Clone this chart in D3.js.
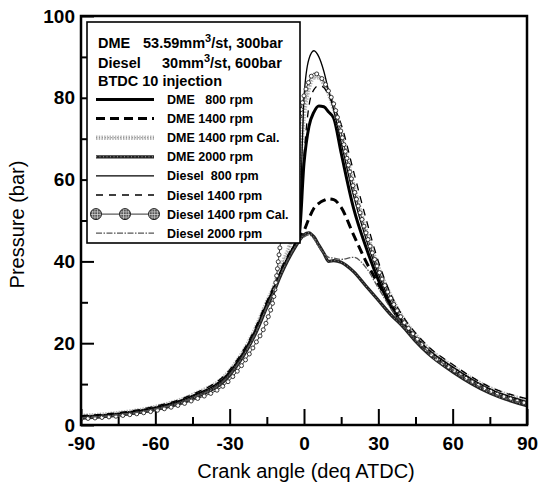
<!DOCTYPE html>
<html>
<head>
<meta charset="utf-8">
<script src="https://cdnjs.cloudflare.com/ajax/libs/d3/7.8.5/d3.min.js"></script>
<style>
body { margin: 0; background: #fff; }
text { font-family: "Liberation Sans", Arial, sans-serif; }
</style>
</head>
<body>
<div id="chart"></div>
<script>
// crank angle samples (deg ATDC) shared by every trace
let angles = [-90, -75, -60, -45, -30, -20, -15, -12, -10, -8, -5, -2, 0, 2, 4, 6, 8, 10, 12, 15, 20, 25, 30, 35, 40, 45, 50, 60, 75, 90];

// pressure (bar)
let dme800 = [2.0, 2.7, 4.2, 7.0, 12.8, 22.5, 29.5, 33.5, 36.5, 39, 42.5, 46, 64, 73, 76.5, 78, 77.8, 76.5, 75, 66.5, 53, 43.5, 35.5, 29, 24.5, 21, 18, 13.8, 8.5, 5.3];
let dme1400 = [1.9, 2.6, 4.1, 6.9, 12.6, 22.3, 29.3, 33.3, 36.3, 38.9, 42.5, 45.5, 47.5, 50.5, 53, 54.2, 54.9, 55.3, 55.1, 53.2, 46.5, 40, 34.5, 29.5, 25, 21.5, 18.5, 14, 8.7, 5.4];
let dme1400Cal = [2.2, 2.9, 4.4, 7.3, 13.2, 23, 30, 34, 37.5, 40.5, 46, 62, 76, 82.5, 85, 85, 83.5, 81, 77.5, 71, 58.5, 47.5, 38.5, 31.5, 26, 22, 18.8, 14.3, 9, 6];
let dme2000 = [1.7, 2.4, 3.8, 6.5, 12.2, 21.8, 28.8, 32.8, 35.8, 38.5, 42, 45, 46.5, 47, 46, 44, 42, 40, 40.2, 39.8, 37.5, 34, 30.5, 27, 24, 20.5, 17.5, 13, 7.8, 4.7];
let diesel800 = [2.1, 2.8, 4.3, 7.1, 13, 22.8, 29.8, 33.8, 36.8, 39.3, 42.8, 47, 80, 89.5, 91.5, 90, 86.5, 81.5, 77, 69, 56, 45.5, 37, 30, 25, 21.5, 18.5, 14.2, 8.8, 5.7];
let diesel1400 = [2.3, 3.0, 4.6, 7.5, 13.5, 23.3, 30.3, 34.3, 37.3, 39.8, 43.2, 46.5, 66, 78, 82, 83, 82.5, 80.5, 78, 73.5, 62, 50.5, 40, 32, 26.5, 22.5, 19.3, 14.8, 9.3, 6.4];
let diesel1400Cal = [1.5, 2.2, 3.5, 6.0, 11, 19.5, 25.5, 32, 42, 52, 64, 74.5, 80.5, 84, 86, 85.5, 84, 81.5, 78.5, 71.5, 58, 47, 38, 31, 25.5, 21.5, 18, 13.5, 8.3, 5.2];
let diesel2000 = [1.8, 2.5, 3.9, 6.6, 12.3, 22, 29, 33, 36, 38.7, 42.2, 45, 46, 46.5, 45.5, 43.5, 42, 41, 40.8, 40.5, 41, 38.5, 33.5, 28.5, 24.5, 21, 18, 13.4, 8.1, 5.0];

let seriesNames = ['DME   800 rpm', 'DME 1400 rpm', 'DME 1400 rpm Cal.', 'DME 2000 rpm', 'Diesel  800 rpm', 'Diesel 1400 rpm', 'Diesel 1400 rpm Cal.', 'Diesel 2000 rpm'];
let seriesValues = [dme800, dme1400, dme1400Cal, dme2000, diesel800, diesel1400, diesel1400Cal, diesel2000];

let xTicks = [-90, -60, -30, 0, 30, 60, 90];
let xTickLabels = ['-90', '-60', '-30', '0', '30', '60', '90'];
let xMinorTicks = [-75, -45, -15, 15, 45, 75];
let yTicks = [0, 20, 40, 60, 80, 100];
let yTickLabels = ['0', '20', '40', '60', '80', '100'];
let yMinorTicks = [10, 30, 50, 70, 90];

// line looks, same order as seriesNames
let styles = [
    {layers: [{stroke: '#000', w: 3}]},
    {layers: [{stroke: '#000', w: 3, dash: '9,5'}]},
    {layers: [{stroke: '#b8b8b8', w: 4.5, dash: '1.5,1.2'}, {stroke: '#8a8a8a', w: 1, dash: '1,2'}]},
    {layers: [{stroke: '#222', w: 3.2}, {stroke: '#bbb', w: 0.8, dash: '1,2.5'}]},
    {layers: [{stroke: '#000', w: 1.3}]},
    {layers: [{stroke: '#000', w: 1.3, dash: '7,6'}]},
    {layers: [{stroke: '#333', w: 1}], markers: true},
    {layers: [{stroke: '#555', w: 1.3, dash: '6,1.5,1.5,1.5'}]}
];

let svgWidth = 538;
let svgHeight = 489;

let margin = {
    top: 16,
    right: 11,
    bottom: 64,
    left: 81
};

let width = svgWidth - margin.left - margin.right;
let height = svgHeight - margin.top - margin.bottom;

let svg = d3.select('#chart')
    .append('svg')
    .attr('width', svgWidth)
    .attr('height', svgHeight);

let defs = svg.append('defs');
let hatch = defs.append('pattern')
    .attr('id', 'hatch')
    .attr('width', 2.6)
    .attr('height', 2.6)
    .attr('patternUnits', 'userSpaceOnUse');
hatch.append('rect').attr('width', 2.6).attr('height', 2.6).attr('fill', '#555');
hatch.append('path').attr('d', 'M0,1.3H2.6M1.3,0V2.6').attr('stroke', '#ddd').attr('stroke-width', 0.6);

defs.append('clipPath').attr('id', 'plotClip')
    .append('rect').attr('width', width).attr('height', height);

let chartGroup = svg.append('g')
    .attr('transform', `translate(${margin.left}, ${margin.top})`);

let xScale = d3.scaleLinear().domain([-90, 90]).range([0, width]);
let yScale = d3.scaleLinear().domain([0, 100]).range([height, 0]);

function styleAxis(g) {
    g.select('.domain').remove();
    g.selectAll('.tick line').attr('stroke', '#000').attr('stroke-width', 2);
    g.selectAll('.tick text')
        .attr('fill', '#000')
        .style('font-size', '19px')
        .style('font-weight', 'bold')
        .style('font-family', '"Liberation Sans", Arial, sans-serif');
}

let bottomAxis = d3.axisBottom(xScale)
    .tickValues(xTicks)
    .tickSize(-16)
    .tickPadding(12)
    .tickFormat((d, i) => xTickLabels[i]);
let bottomMinor = d3.axisBottom(xScale).tickValues(xMinorTicks).tickSize(-8).tickFormat('');

let leftAxis = d3.axisLeft(yScale)
    .tickValues(yTicks)
    .tickSize(-13)
    .tickPadding(6)
    .tickFormat((d, i) => yTickLabels[i]);
let leftMinor = d3.axisLeft(yScale).tickValues(yMinorTicks).tickSize(-7).tickFormat('');

chartGroup.append('g').attr('transform', `translate(0, ${height})`).call(bottomAxis).call(styleAxis);
chartGroup.append('g').attr('transform', `translate(0, ${height})`).call(bottomMinor).call(styleAxis);
chartGroup.append('g').call(leftAxis).call(styleAxis);
chartGroup.append('g').call(leftMinor).call(styleAxis);

// axis titles
chartGroup.append('text')
    .attr('x', width / 2 + 2)
    .attr('y', height + 53)
    .attr('text-anchor', 'middle')
    .style('font-size', '20px')
    .text('Crank angle (deq ATDC)');

chartGroup.append('text')
    .attr('transform', `translate(-57, ${height / 2 + 4}) rotate(-90)`)
    .attr('text-anchor', 'middle')
    .style('font-size', '20px')
    .text('Pressure (bar)');

// draw one styled trace, markers sampled along the drawn path
function drawStyled(g, d, style, big) {
    let base;
    style.layers.forEach((l, i) => {
        let p = g.append('path')
            .attr('d', d)
            .attr('fill', 'none')
            .attr('stroke', l.stroke)
            .attr('stroke-width', l.w)
            .attr('stroke-dasharray', l.dash || null);
        if (i === 0) base = p;
    });
    if (style.markers) {
        let node = base.node();
        let len = node.getTotalLength();
        let step = big ? len / 2 : 7;
        for (let s = 0; s <= len + 0.1; s += step) {
            let pt = node.getPointAtLength(Math.min(s, len));
            g.append('circle')
                .attr('cx', pt.x)
                .attr('cy', pt.y)
                .attr('r', big ? 5.5 : 2)
                .attr('fill', big ? 'url(#hatch)' : '#fff')
                .attr('stroke', '#222')
                .attr('stroke-width', big ? 1 : 0.9);
        }
    }
}

// legend box
let legend = svg.append('g');
legend.append('rect')
    .attr('x', 87)
    .attr('y', 22)
    .attr('width', 213)
    .attr('height', 221)
    .attr('fill', '#fff')
    .attr('stroke', '#000')
    .attr('stroke-width', 1.6);

let header = legend.append('g')
    .style('font-size', '14.5px')
    .style('font-weight', 'bold');

header.append('text').attr('x', 98).attr('y', 48).text('DME');
let h1 = header.append('text').attr('x', 143).attr('y', 48);
h1.append('tspan').text('53.59mm');
h1.append('tspan').attr('dy', -6).style('font-size', '11px').text('3');
h1.append('tspan').attr('dy', 6).text('/st, 300bar');

header.append('text').attr('x', 98).attr('y', 68).text('Diesel');
let h2 = header.append('text').attr('x', 162).attr('y', 68);
h2.append('tspan').text('30mm');
h2.append('tspan').attr('dy', -6).style('font-size', '11px').text('3');
h2.append('tspan').attr('dy', 6).text('/st, 600bar');

header.append('text').attr('x', 98).attr('y', 86).text('BTDC 10 injection');

let sampleLine = d3.line();
seriesNames.forEach((name, i) => {
    let cy = 99.5 + i * 19.1;
    let g = legend.append('g');
    drawStyled(g, sampleLine([[96, cy], [154, cy]]), styles[i], true);
    g.append('text')
        .attr('x', 167)
        .attr('y', cy + 4.5)
        .style('font-size', '12.5px')
        .style('font-weight', 'bold')
        .style('white-space', 'pre')
        .attr('xml:space', 'preserve')
        .text(name);
});

// traces
let line = d3.line()
    .x(d => xScale(d[0]))
    .y(d => yScale(d[1]))
    .curve(d3.curveMonotoneX);

let traces = chartGroup.append('g').attr('clip-path', 'url(#plotClip)');
seriesValues.forEach((vals, i) => {
    let pts = angles.map((a, j) => [a, vals[j]]);
    drawStyled(traces.append('g'), line(pts), styles[i], false);
});

// frame
chartGroup.append('rect')
    .attr('width', width)
    .attr('height', height)
    .attr('fill', 'none')
    .attr('stroke', '#000')
    .attr('stroke-width', 2.5);
</script>
</body>
</html>
